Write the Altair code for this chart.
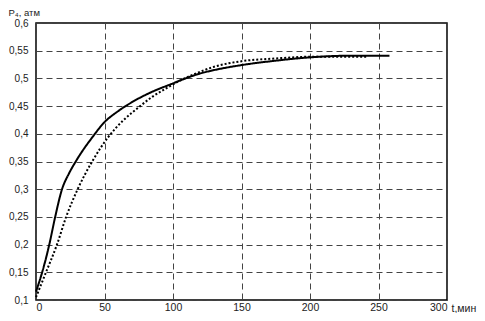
import altair as alt
import pandas as pd

# Solid curve
t_solid = [0, 4.5, 9.7, 14, 19, 24, 29, 35, 40, 50, 60, 70, 84, 100, 106, 120, 130, 150, 175, 200, 230, 258]
p_solid = [0.115, 0.15, 0.2, 0.25, 0.3, 0.328, 0.35, 0.373, 0.39, 0.421, 0.441, 0.457, 0.475, 0.491, 0.497, 0.509, 0.515, 0.524, 0.532, 0.538, 0.541, 0.541]

# Dotted curve
t_dot = [0, 7.3, 15.3, 22, 30.4, 41, 53, 64, 75, 85, 95, 105, 115, 130, 150, 175, 200, 220, 242]
p_dot = [0.105, 0.15, 0.2, 0.25, 0.3, 0.35, 0.395, 0.425, 0.448, 0.467, 0.482, 0.496, 0.507, 0.521, 0.531, 0.536, 0.539, 0.539, 0.539]

x_ticks = [0, 50, 100, 150, 200, 250, 300]
y_ticks = [0.1, 0.15, 0.2, 0.25, 0.3, 0.35, 0.4, 0.45, 0.5, 0.55, 0.6]

df = pd.concat([
    pd.DataFrame({"t": t_solid, "p": p_solid, "s": "solid"}),
    pd.DataFrame({"t": t_dot, "p": p_dot, "s": "dotted"}),
])

FONT = "Liberation Sans"

chart = alt.Chart(df).mark_line(color="black", strokeWidth=2, interpolate="monotone").encode(
    x=alt.X("t:Q", scale=alt.Scale(domain=[0, 300], nice=False),
            axis=alt.Axis(values=x_ticks, title="t,мин", grid=True, ticks=False,
                          tickSize=0, labelPadding=2, labelBaseline="top",
                          labelFontSize=10.5,
                          domain=False, labelOverlap=False,
                          titleX=415, titleY=11, titleAlign="left",
                          titleBaseline="alphabetic", titleFontWeight="normal",
                          titleFontSize=10.5, titleFont=FONT, titleColor="#222")),
    y=alt.Y("p:Q", scale=alt.Scale(domain=[0.1, 0.6], nice=False, zero=False),
            axis=alt.Axis(values=y_ticks, title="P₄, атм", grid=True, ticks=False,
                          tickSize=0, labelPadding=8, domain=False, labelOverlap=False,
                          labelFontSize=10,
                          labelExpr="replace(format(datum.value, '.2~f'), '.', ',')",
                          titleAngle=0, titleX=-28, titleY=-8, titleAlign="left",
                          titleBaseline="alphabetic", titleFontWeight="normal",
                          titleFontSize=9.5, titleFont=FONT, titleColor="#222")),
    strokeDash=alt.StrokeDash("s:N", scale=alt.Scale(domain=["solid", "dotted"],
                                                      range=[[1, 0], [2, 2]]), legend=None),
    detail="s:N",
).properties(
    width=411, height=277,
    autosize=alt.AutoSizeParams(type="none"),
    padding={"left": 28, "top": 15, "right": 30, "bottom": 13},
).configure_axis(
    gridColor="#444", gridDash=[6, 4], gridWidth=1,
    labelFont=FONT, labelColor="#222",
).configure_view(stroke="black", strokeWidth=1.5)

chart.save("out.html", embed_options={"renderer": "svg", "actions": False})
